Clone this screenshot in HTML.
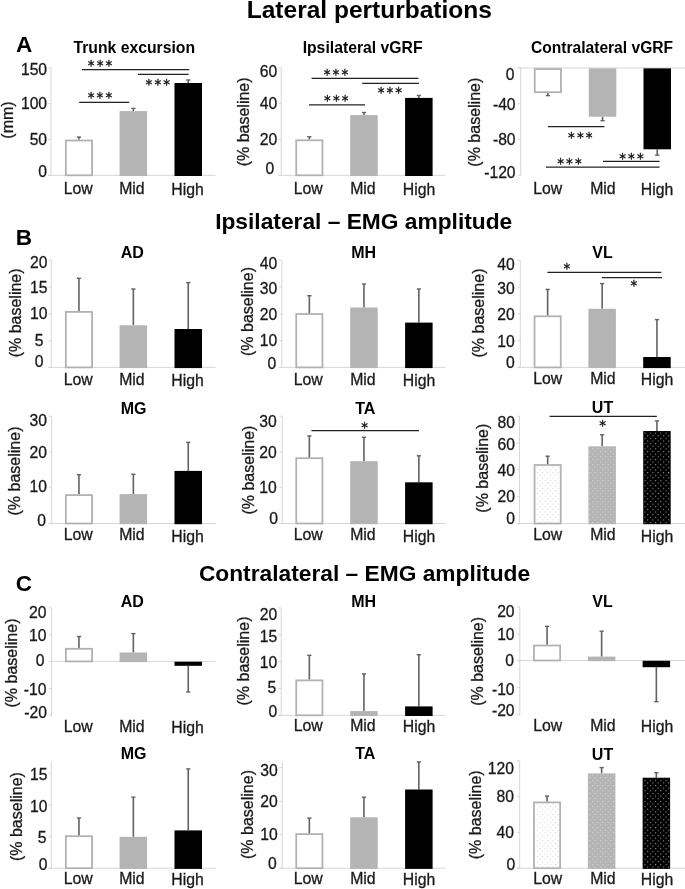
<!DOCTYPE html>
<html lang="en"><head><meta charset="utf-8"><title>Lateral perturbations</title>
<style>html,body{margin:0;padding:0;background:#fff}svg{display:block}svg text{font-family:"Liberation Sans",sans-serif}</style></head><body>
<svg width="685" height="889" viewBox="0 0 685 889">
<defs><pattern id="dotL" x="644.5" y="432.6" width="5.26" height="5.26" patternUnits="userSpaceOnUse"><rect x="0" y="0" width="1.1" height="1.1" fill="#b8b8b8" fill-opacity="0.6"/><rect x="2.63" y="2.63" width="1.1" height="1.1" fill="#b8b8b8" fill-opacity="0.6"/></pattern><pattern id="dotM" x="644.5" y="432.6" width="5.26" height="5.26" patternUnits="userSpaceOnUse"><rect x="0" y="0" width="1.1" height="1.1" fill="#ffffff" fill-opacity="0.45"/><rect x="2.63" y="2.63" width="1.1" height="1.1" fill="#ffffff" fill-opacity="0.45"/></pattern><pattern id="dotH" x="644.5" y="432.6" width="5.26" height="5.26" patternUnits="userSpaceOnUse"><rect x="0" y="0" width="1.1" height="1.1" fill="#ffffff" fill-opacity="0.6"/><rect x="2.63" y="2.63" width="1.1" height="1.1" fill="#ffffff" fill-opacity="0.6"/></pattern></defs>
<rect width="685" height="889" fill="#fff"/>
<text x="369.3" y="18" font-size="24.5" text-anchor="middle" font-weight="bold" fill="#000">Lateral perturbations</text>
<text x="363.7" y="229" font-size="22.75" text-anchor="middle" font-weight="bold" fill="#000">Ipsilateral – EMG amplitude</text>
<text x="364.5" y="581.2" font-size="22.75" text-anchor="middle" font-weight="bold" fill="#000">Contralateral – EMG amplitude</text>
<text x="24" y="52.2" font-size="22.5" text-anchor="middle" font-weight="bold" fill="#000">A</text>
<text x="23.9" y="244.5" font-size="22.5" text-anchor="middle" font-weight="bold" fill="#000">B</text>
<text x="23.8" y="591.2" font-size="22.5" text-anchor="middle" font-weight="bold" fill="#000">C</text>
<line x1="51" y1="67.9" x2="51" y2="175.3" stroke="#d2d2d2" stroke-width="0.9"/>
<line x1="48.3" y1="175.3" x2="215.6" y2="175.3" stroke="#d2d2d2" stroke-width="0.9"/>
<line x1="78.95" y1="139.8" x2="78.95" y2="137.1" stroke="#626262" stroke-width="1.6"/>
<line x1="76.85" y1="137.1" x2="81.05" y2="137.1" stroke="#626262" stroke-width="1.4"/>
<rect x="65.85" y="140.5" width="26.2" height="34.8" fill="#fff" stroke="#b2b2b2" stroke-width="1.8"/>
<line x1="133.35" y1="111.1" x2="133.35" y2="108.4" stroke="#626262" stroke-width="1.6"/>
<line x1="131.25" y1="108.4" x2="135.45" y2="108.4" stroke="#626262" stroke-width="1.4"/>
<rect x="119.6" y="111.1" width="27.5" height="64.9" fill="#b4b4b4"/>
<line x1="188.25" y1="83" x2="188.25" y2="80" stroke="#626262" stroke-width="1.6"/>
<line x1="186.15" y1="80" x2="190.35" y2="80" stroke="#626262" stroke-width="1.4"/>
<rect x="174.5" y="83" width="27.5" height="93" fill="#000000"/>
<line x1="48.3" y1="67.9" x2="51" y2="67.9" stroke="#d2d2d2" stroke-width="0.9"/>
<text x="47.1" y="75.15" font-size="15.7" text-anchor="end" stroke="#1a1a1a" stroke-width="0.3" fill="#1a1a1a">150</text>
<line x1="48.3" y1="103.7" x2="51" y2="103.7" stroke="#d2d2d2" stroke-width="0.9"/>
<text x="47.1" y="109.15" font-size="15.7" text-anchor="end" stroke="#1a1a1a" stroke-width="0.3" fill="#1a1a1a">100</text>
<line x1="48.3" y1="139.5" x2="51" y2="139.5" stroke="#d2d2d2" stroke-width="0.9"/>
<text x="47.1" y="144.85" font-size="15.7" text-anchor="end" stroke="#1a1a1a" stroke-width="0.3" fill="#1a1a1a">50</text>
<line x1="48.3" y1="175.3" x2="51" y2="175.3" stroke="#d2d2d2" stroke-width="0.9"/>
<text x="47.1" y="176.55" font-size="15.7" text-anchor="end" stroke="#1a1a1a" stroke-width="0.3" fill="#1a1a1a">0</text>
<text x="78.25" y="193.9" font-size="15.8" text-anchor="middle" stroke="#1a1a1a" stroke-width="0.3" fill="#1a1a1a">Low</text>
<text x="131.9" y="193.9" font-size="15.8" text-anchor="middle" stroke="#1a1a1a" stroke-width="0.3" fill="#1a1a1a">Mid</text>
<text x="187.5" y="195.1" font-size="15.8" text-anchor="middle" stroke="#1a1a1a" stroke-width="0.3" fill="#1a1a1a">High</text>
<text x="134.3" y="52.6" font-size="15.75" text-anchor="middle" font-weight="bold" fill="#000">Trunk excursion</text>
<text transform="translate(12.5 120) rotate(-90)" font-size="16" text-anchor="middle" fill="#1a1a1a" stroke="#1a1a1a" stroke-width="0.3">(mm)</text>
<line x1="82" y1="69.5" x2="189.3" y2="69.5" stroke="#222" stroke-width="1.25"/>
<text x="101.15" y="70.25" font-size="13.5" text-anchor="middle" fill="#111" stroke="#111" stroke-width="0.3" style="font-family:'DejaVu Sans','Liberation Sans',sans-serif" letter-spacing="2.1">***</text>
<line x1="138" y1="74.4" x2="188.6" y2="74.4" stroke="#222" stroke-width="1.25"/>
<text x="158.85" y="88.65" font-size="13.5" text-anchor="middle" fill="#111" stroke="#111" stroke-width="0.3" style="font-family:'DejaVu Sans','Liberation Sans',sans-serif" letter-spacing="2.1">***</text>
<line x1="79.2" y1="102.3" x2="129.3" y2="102.3" stroke="#222" stroke-width="1.25"/>
<text x="101.05" y="101.95" font-size="13.5" text-anchor="middle" fill="#111" stroke="#111" stroke-width="0.3" style="font-family:'DejaVu Sans','Liberation Sans',sans-serif" letter-spacing="2.1">***</text>
<line x1="281.2" y1="67.9" x2="281.2" y2="175.3" stroke="#d2d2d2" stroke-width="0.9"/>
<line x1="278.5" y1="175.3" x2="445.7" y2="175.3" stroke="#d2d2d2" stroke-width="0.9"/>
<line x1="309.35" y1="139.6" x2="309.35" y2="136.8" stroke="#626262" stroke-width="1.6"/>
<line x1="307.25" y1="136.8" x2="311.45" y2="136.8" stroke="#626262" stroke-width="1.4"/>
<rect x="296.25" y="140.3" width="26.2" height="35" fill="#fff" stroke="#b2b2b2" stroke-width="1.8"/>
<line x1="363.95" y1="115.1" x2="363.95" y2="112.5" stroke="#626262" stroke-width="1.6"/>
<line x1="361.85" y1="112.5" x2="366.05" y2="112.5" stroke="#626262" stroke-width="1.4"/>
<rect x="350.2" y="115.1" width="27.5" height="60.9" fill="#b4b4b4"/>
<line x1="418.85" y1="97.9" x2="418.85" y2="95.5" stroke="#626262" stroke-width="1.6"/>
<line x1="416.75" y1="95.5" x2="420.95" y2="95.5" stroke="#626262" stroke-width="1.4"/>
<rect x="405.1" y="97.9" width="27.5" height="78.1" fill="#000000"/>
<line x1="278.5" y1="67.9" x2="281.2" y2="67.9" stroke="#d2d2d2" stroke-width="0.9"/>
<text x="277.3" y="77.05" font-size="15.7" text-anchor="end" stroke="#1a1a1a" stroke-width="0.3" fill="#1a1a1a">60</text>
<line x1="278.5" y1="103.7" x2="281.2" y2="103.7" stroke="#d2d2d2" stroke-width="0.9"/>
<text x="277.3" y="109.45" font-size="15.7" text-anchor="end" stroke="#1a1a1a" stroke-width="0.3" fill="#1a1a1a">40</text>
<line x1="278.5" y1="139.5" x2="281.2" y2="139.5" stroke="#d2d2d2" stroke-width="0.9"/>
<text x="277.3" y="145.05" font-size="15.7" text-anchor="end" stroke="#1a1a1a" stroke-width="0.3" fill="#1a1a1a">20</text>
<line x1="278.5" y1="175.3" x2="281.2" y2="175.3" stroke="#d2d2d2" stroke-width="0.9"/>
<text x="274.3" y="173.75" font-size="15.7" text-anchor="end" stroke="#1a1a1a" stroke-width="0.3" fill="#1a1a1a">0</text>
<text x="308.25" y="193.9" font-size="15.8" text-anchor="middle" stroke="#1a1a1a" stroke-width="0.3" fill="#1a1a1a">Low</text>
<text x="362.9" y="193.9" font-size="15.8" text-anchor="middle" stroke="#1a1a1a" stroke-width="0.3" fill="#1a1a1a">Mid</text>
<text x="419" y="195.1" font-size="15.8" text-anchor="middle" stroke="#1a1a1a" stroke-width="0.3" fill="#1a1a1a">High</text>
<text x="362.6" y="52.8" font-size="15.75" text-anchor="middle" font-weight="bold" fill="#000">Ipsilateral vGRF</text>
<text transform="translate(249 121.9) rotate(-90)" font-size="16" text-anchor="middle" fill="#1a1a1a" stroke="#1a1a1a" stroke-width="0.3">(% baseline)</text>
<line x1="311.6" y1="78.4" x2="418.4" y2="78.4" stroke="#222" stroke-width="1.25"/>
<text x="337.05" y="78.85" font-size="13.5" text-anchor="middle" fill="#111" stroke="#111" stroke-width="0.3" style="font-family:'DejaVu Sans','Liberation Sans',sans-serif" letter-spacing="2.1">***</text>
<line x1="362.2" y1="83.4" x2="419" y2="83.4" stroke="#222" stroke-width="1.25"/>
<text x="390.95" y="97.35" font-size="13.5" text-anchor="middle" fill="#111" stroke="#111" stroke-width="0.3" style="font-family:'DejaVu Sans','Liberation Sans',sans-serif" letter-spacing="2.1">***</text>
<line x1="309" y1="104.9" x2="365.1" y2="104.9" stroke="#222" stroke-width="1.25"/>
<text x="337.35" y="104.75" font-size="13.5" text-anchor="middle" fill="#111" stroke="#111" stroke-width="0.3" style="font-family:'DejaVu Sans','Liberation Sans',sans-serif" letter-spacing="2.1">***</text>
<line x1="520.7" y1="67.9" x2="520.7" y2="175.3" stroke="#d2d2d2" stroke-width="0.9"/>
<line x1="518" y1="67.9" x2="685" y2="67.9" stroke="#d2d2d2" stroke-width="0.9"/>
<line x1="547.85" y1="92.7" x2="547.85" y2="95.6" stroke="#626262" stroke-width="1.6"/>
<line x1="545.75" y1="95.6" x2="549.95" y2="95.6" stroke="#626262" stroke-width="1.4"/>
<rect x="534.75" y="69.05" width="26.2" height="23.15" fill="#fff" stroke="#b2b2b2" stroke-width="1.8"/>
<line x1="602.55" y1="116.7" x2="602.55" y2="120.7" stroke="#626262" stroke-width="1.6"/>
<line x1="600.45" y1="120.7" x2="604.65" y2="120.7" stroke="#626262" stroke-width="1.4"/>
<rect x="588.8" y="68.35" width="27.5" height="48.35" fill="#b4b4b4"/>
<line x1="657.25" y1="149.3" x2="657.25" y2="155.2" stroke="#626262" stroke-width="1.6"/>
<line x1="655.15" y1="155.2" x2="659.35" y2="155.2" stroke="#626262" stroke-width="1.4"/>
<rect x="643.5" y="68.35" width="27.5" height="80.95" fill="#000000"/>
<line x1="518" y1="67.9" x2="520.7" y2="67.9" stroke="#d2d2d2" stroke-width="0.9"/>
<text x="514.5" y="79.95" font-size="15.7" text-anchor="end" stroke="#1a1a1a" stroke-width="0.3" fill="#1a1a1a">0</text>
<line x1="518" y1="103.7" x2="520.7" y2="103.7" stroke="#d2d2d2" stroke-width="0.9"/>
<text x="515.6" y="109.75" font-size="15.7" text-anchor="end" stroke="#1a1a1a" stroke-width="0.3" fill="#1a1a1a">-40</text>
<line x1="518" y1="139.5" x2="520.7" y2="139.5" stroke="#d2d2d2" stroke-width="0.9"/>
<text x="515.6" y="144.75" font-size="15.7" text-anchor="end" stroke="#1a1a1a" stroke-width="0.3" fill="#1a1a1a">-80</text>
<line x1="518" y1="175.3" x2="520.7" y2="175.3" stroke="#d2d2d2" stroke-width="0.9"/>
<text x="515.6" y="178.35" font-size="15.7" text-anchor="end" stroke="#1a1a1a" stroke-width="0.3" fill="#1a1a1a">-120</text>
<text x="547.75" y="193.9" font-size="15.8" text-anchor="middle" stroke="#1a1a1a" stroke-width="0.3" fill="#1a1a1a">Low</text>
<text x="602.9" y="193.9" font-size="15.8" text-anchor="middle" stroke="#1a1a1a" stroke-width="0.3" fill="#1a1a1a">Mid</text>
<text x="657.1" y="195.1" font-size="15.8" text-anchor="middle" stroke="#1a1a1a" stroke-width="0.3" fill="#1a1a1a">High</text>
<text x="602" y="53" font-size="15.6" text-anchor="middle" font-weight="bold" fill="#000">Contralateral vGRF</text>
<text transform="translate(480.4 122.2) rotate(-90)" font-size="16" text-anchor="middle" fill="#1a1a1a" stroke="#1a1a1a" stroke-width="0.3">(% baseline)</text>
<line x1="547.9" y1="126.5" x2="604.4" y2="126.5" stroke="#222" stroke-width="1.25"/>
<text x="581.35" y="141.75" font-size="13.5" text-anchor="middle" fill="#111" stroke="#111" stroke-width="0.3" style="font-family:'DejaVu Sans','Liberation Sans',sans-serif" letter-spacing="2.1">***</text>
<line x1="603" y1="161.3" x2="659.6" y2="161.3" stroke="#222" stroke-width="1.25"/>
<text x="632.55" y="162.75" font-size="13.5" text-anchor="middle" fill="#111" stroke="#111" stroke-width="0.3" style="font-family:'DejaVu Sans','Liberation Sans',sans-serif" letter-spacing="2.1">***</text>
<line x1="545.9" y1="167.1" x2="659.6" y2="167.1" stroke="#222" stroke-width="1.25"/>
<text x="570.55" y="168.15" font-size="13.5" text-anchor="middle" fill="#111" stroke="#111" stroke-width="0.3" style="font-family:'DejaVu Sans','Liberation Sans',sans-serif" letter-spacing="2.1">***</text>
<line x1="51.3" y1="260.2" x2="51.3" y2="367.4" stroke="#d2d2d2" stroke-width="0.9"/>
<line x1="48.6" y1="367.4" x2="215.5" y2="367.4" stroke="#d2d2d2" stroke-width="0.9"/>
<line x1="78.95" y1="311.2" x2="78.95" y2="278.3" stroke="#626262" stroke-width="1.6"/>
<line x1="76.85" y1="278.3" x2="81.05" y2="278.3" stroke="#626262" stroke-width="1.4"/>
<rect x="65.85" y="311.9" width="26.2" height="55.5" fill="#fff" stroke="#b2b2b2" stroke-width="1.8"/>
<line x1="133.35" y1="325.3" x2="133.35" y2="289" stroke="#626262" stroke-width="1.6"/>
<line x1="131.25" y1="289" x2="135.45" y2="289" stroke="#626262" stroke-width="1.4"/>
<rect x="119.6" y="325.3" width="27.5" height="42.8" fill="#b4b4b4"/>
<line x1="188.25" y1="329" x2="188.25" y2="282.6" stroke="#626262" stroke-width="1.6"/>
<line x1="186.15" y1="282.6" x2="190.35" y2="282.6" stroke="#626262" stroke-width="1.4"/>
<rect x="174.5" y="329" width="27.5" height="39.1" fill="#000000"/>
<line x1="48.6" y1="260.2" x2="51.3" y2="260.2" stroke="#d2d2d2" stroke-width="0.9"/>
<text x="47.4" y="268.05" font-size="15.7" text-anchor="end" stroke="#1a1a1a" stroke-width="0.3" fill="#1a1a1a">20</text>
<line x1="48.6" y1="287" x2="51.3" y2="287" stroke="#d2d2d2" stroke-width="0.9"/>
<text x="47.4" y="292.55" font-size="15.7" text-anchor="end" stroke="#1a1a1a" stroke-width="0.3" fill="#1a1a1a">15</text>
<line x1="48.6" y1="313.8" x2="51.3" y2="313.8" stroke="#d2d2d2" stroke-width="0.9"/>
<text x="47.4" y="319.35" font-size="15.7" text-anchor="end" stroke="#1a1a1a" stroke-width="0.3" fill="#1a1a1a">10</text>
<line x1="48.6" y1="340.6" x2="51.3" y2="340.6" stroke="#d2d2d2" stroke-width="0.9"/>
<text x="43.5" y="346.25" font-size="15.7" text-anchor="end" stroke="#1a1a1a" stroke-width="0.3" fill="#1a1a1a">5</text>
<line x1="48.6" y1="367.4" x2="51.3" y2="367.4" stroke="#d2d2d2" stroke-width="0.9"/>
<text x="43.5" y="366.85" font-size="15.7" text-anchor="end" stroke="#1a1a1a" stroke-width="0.3" fill="#1a1a1a">0</text>
<text x="78.25" y="384.9" font-size="15.8" text-anchor="middle" stroke="#1a1a1a" stroke-width="0.3" fill="#1a1a1a">Low</text>
<text x="131.9" y="384.9" font-size="15.8" text-anchor="middle" stroke="#1a1a1a" stroke-width="0.3" fill="#1a1a1a">Mid</text>
<text x="187.5" y="386.1" font-size="15.8" text-anchor="middle" stroke="#1a1a1a" stroke-width="0.3" fill="#1a1a1a">High</text>
<text x="132.2" y="258" font-size="16" text-anchor="middle" font-weight="bold" fill="#000">AD</text>
<text transform="translate(20.6 312.9) rotate(-90)" font-size="16" text-anchor="middle" fill="#1a1a1a" stroke="#1a1a1a" stroke-width="0.3">(% baseline)</text>
<line x1="281.8" y1="260.2" x2="281.8" y2="367.4" stroke="#d2d2d2" stroke-width="0.9"/>
<line x1="279.1" y1="367.4" x2="445.7" y2="367.4" stroke="#d2d2d2" stroke-width="0.9"/>
<line x1="309.35" y1="313.3" x2="309.35" y2="295.7" stroke="#626262" stroke-width="1.6"/>
<line x1="307.25" y1="295.7" x2="311.45" y2="295.7" stroke="#626262" stroke-width="1.4"/>
<rect x="296.25" y="314" width="26.2" height="53.4" fill="#fff" stroke="#b2b2b2" stroke-width="1.8"/>
<line x1="363.95" y1="307.5" x2="363.95" y2="284" stroke="#626262" stroke-width="1.6"/>
<line x1="361.85" y1="284" x2="366.05" y2="284" stroke="#626262" stroke-width="1.4"/>
<rect x="350.2" y="307.5" width="27.5" height="60.6" fill="#b4b4b4"/>
<line x1="418.85" y1="322.6" x2="418.85" y2="289" stroke="#626262" stroke-width="1.6"/>
<line x1="416.75" y1="289" x2="420.95" y2="289" stroke="#626262" stroke-width="1.4"/>
<rect x="405.1" y="322.6" width="27.5" height="45.5" fill="#000000"/>
<line x1="279.1" y1="260.2" x2="281.8" y2="260.2" stroke="#d2d2d2" stroke-width="0.9"/>
<text x="277.2" y="269.45" font-size="15.7" text-anchor="end" stroke="#1a1a1a" stroke-width="0.3" fill="#1a1a1a">40</text>
<line x1="279.1" y1="287" x2="281.8" y2="287" stroke="#d2d2d2" stroke-width="0.9"/>
<text x="277.2" y="293.75" font-size="15.7" text-anchor="end" stroke="#1a1a1a" stroke-width="0.3" fill="#1a1a1a">30</text>
<line x1="279.1" y1="313.8" x2="281.8" y2="313.8" stroke="#d2d2d2" stroke-width="0.9"/>
<text x="277.2" y="319.95" font-size="15.7" text-anchor="end" stroke="#1a1a1a" stroke-width="0.3" fill="#1a1a1a">20</text>
<line x1="279.1" y1="340.6" x2="281.8" y2="340.6" stroke="#d2d2d2" stroke-width="0.9"/>
<text x="277.2" y="346.45" font-size="15.7" text-anchor="end" stroke="#1a1a1a" stroke-width="0.3" fill="#1a1a1a">10</text>
<line x1="279.1" y1="367.4" x2="281.8" y2="367.4" stroke="#d2d2d2" stroke-width="0.9"/>
<text x="276.2" y="369.25" font-size="15.7" text-anchor="end" stroke="#1a1a1a" stroke-width="0.3" fill="#1a1a1a">0</text>
<text x="308.25" y="385.1" font-size="15.8" text-anchor="middle" stroke="#1a1a1a" stroke-width="0.3" fill="#1a1a1a">Low</text>
<text x="362.9" y="385.1" font-size="15.8" text-anchor="middle" stroke="#1a1a1a" stroke-width="0.3" fill="#1a1a1a">Mid</text>
<text x="419" y="386.3" font-size="15.8" text-anchor="middle" stroke="#1a1a1a" stroke-width="0.3" fill="#1a1a1a">High</text>
<text x="363.6" y="258" font-size="16" text-anchor="middle" font-weight="bold" fill="#000">MH</text>
<text transform="translate(253.2 311.5) rotate(-90)" font-size="16" text-anchor="middle" fill="#1a1a1a" stroke="#1a1a1a" stroke-width="0.3">(% baseline)</text>
<line x1="520.3" y1="260.4" x2="520.3" y2="367.4" stroke="#d2d2d2" stroke-width="0.9"/>
<line x1="517.6" y1="367.4" x2="685" y2="367.4" stroke="#d2d2d2" stroke-width="0.9"/>
<line x1="547.65" y1="315.6" x2="547.65" y2="289.4" stroke="#626262" stroke-width="1.6"/>
<line x1="545.55" y1="289.4" x2="549.75" y2="289.4" stroke="#626262" stroke-width="1.4"/>
<rect x="534.55" y="316.3" width="26.2" height="51.1" fill="#fff" stroke="#b2b2b2" stroke-width="1.8"/>
<line x1="602.15" y1="308.8" x2="602.15" y2="283.6" stroke="#626262" stroke-width="1.6"/>
<line x1="600.05" y1="283.6" x2="604.25" y2="283.6" stroke="#626262" stroke-width="1.4"/>
<rect x="588.4" y="308.8" width="27.5" height="59.3" fill="#b4b4b4"/>
<line x1="656.95" y1="357" x2="656.95" y2="319.6" stroke="#626262" stroke-width="1.6"/>
<line x1="654.85" y1="319.6" x2="659.05" y2="319.6" stroke="#626262" stroke-width="1.4"/>
<rect x="643.2" y="357" width="27.5" height="11.1" fill="#000000"/>
<line x1="517.6" y1="260.2" x2="520.3" y2="260.2" stroke="#d2d2d2" stroke-width="0.9"/>
<text x="514.8" y="270.25" font-size="15.7" text-anchor="end" stroke="#1a1a1a" stroke-width="0.3" fill="#1a1a1a">40</text>
<line x1="517.6" y1="287" x2="520.3" y2="287" stroke="#d2d2d2" stroke-width="0.9"/>
<text x="514.8" y="293.55" font-size="15.7" text-anchor="end" stroke="#1a1a1a" stroke-width="0.3" fill="#1a1a1a">30</text>
<line x1="517.6" y1="313.8" x2="520.3" y2="313.8" stroke="#d2d2d2" stroke-width="0.9"/>
<text x="514.8" y="320.15" font-size="15.7" text-anchor="end" stroke="#1a1a1a" stroke-width="0.3" fill="#1a1a1a">20</text>
<line x1="517.6" y1="340.6" x2="520.3" y2="340.6" stroke="#d2d2d2" stroke-width="0.9"/>
<text x="514.8" y="347.15" font-size="15.7" text-anchor="end" stroke="#1a1a1a" stroke-width="0.3" fill="#1a1a1a">10</text>
<line x1="517.6" y1="367.4" x2="520.3" y2="367.4" stroke="#d2d2d2" stroke-width="0.9"/>
<text x="514.8" y="367.95" font-size="15.7" text-anchor="end" stroke="#1a1a1a" stroke-width="0.3" fill="#1a1a1a">0</text>
<text x="547.75" y="384" font-size="15.8" text-anchor="middle" stroke="#1a1a1a" stroke-width="0.3" fill="#1a1a1a">Low</text>
<text x="602.9" y="384" font-size="15.8" text-anchor="middle" stroke="#1a1a1a" stroke-width="0.3" fill="#1a1a1a">Mid</text>
<text x="657.1" y="385.2" font-size="15.8" text-anchor="middle" stroke="#1a1a1a" stroke-width="0.3" fill="#1a1a1a">High</text>
<text x="602.5" y="257.5" font-size="16" text-anchor="middle" font-weight="bold" fill="#000">VL</text>
<text transform="translate(483.7 313) rotate(-90)" font-size="16" text-anchor="middle" fill="#1a1a1a" stroke="#1a1a1a" stroke-width="0.3">(% baseline)</text>
<line x1="547.4" y1="272.4" x2="661.3" y2="272.4" stroke="#222" stroke-width="1.25"/>
<text x="566.9" y="272.85" font-size="13.5" text-anchor="middle" fill="#111" stroke="#111" stroke-width="0.3" style="font-family:'DejaVu Sans','Liberation Sans',sans-serif">*</text>
<line x1="601.9" y1="277.5" x2="662" y2="277.5" stroke="#222" stroke-width="1.25"/>
<text x="633.8" y="290.35" font-size="13.5" text-anchor="middle" fill="#111" stroke="#111" stroke-width="0.3" style="font-family:'DejaVu Sans','Liberation Sans',sans-serif">*</text>
<line x1="51.7" y1="416.2" x2="51.7" y2="523.5" stroke="#d2d2d2" stroke-width="0.9"/>
<line x1="49" y1="523.5" x2="215.5" y2="523.5" stroke="#d2d2d2" stroke-width="0.9"/>
<line x1="78.95" y1="494.4" x2="78.95" y2="474.7" stroke="#626262" stroke-width="1.6"/>
<line x1="76.85" y1="474.7" x2="81.05" y2="474.7" stroke="#626262" stroke-width="1.4"/>
<rect x="65.85" y="495.1" width="26.2" height="28.4" fill="#fff" stroke="#b2b2b2" stroke-width="1.8"/>
<line x1="133.35" y1="494.1" x2="133.35" y2="474.3" stroke="#626262" stroke-width="1.6"/>
<line x1="131.25" y1="474.3" x2="135.45" y2="474.3" stroke="#626262" stroke-width="1.4"/>
<rect x="119.6" y="494.1" width="27.5" height="30.1" fill="#b4b4b4"/>
<line x1="188.25" y1="470.9" x2="188.25" y2="442.4" stroke="#626262" stroke-width="1.6"/>
<line x1="186.15" y1="442.4" x2="190.35" y2="442.4" stroke="#626262" stroke-width="1.4"/>
<rect x="174.5" y="470.9" width="27.5" height="53.3" fill="#000000"/>
<line x1="49" y1="416.2" x2="51.7" y2="416.2" stroke="#d2d2d2" stroke-width="0.9"/>
<text x="46.9" y="425.85" font-size="15.7" text-anchor="end" stroke="#1a1a1a" stroke-width="0.3" fill="#1a1a1a">30</text>
<line x1="49" y1="451.97" x2="51.7" y2="451.97" stroke="#d2d2d2" stroke-width="0.9"/>
<text x="46.9" y="457.85" font-size="15.7" text-anchor="end" stroke="#1a1a1a" stroke-width="0.3" fill="#1a1a1a">20</text>
<line x1="49" y1="487.73" x2="51.7" y2="487.73" stroke="#d2d2d2" stroke-width="0.9"/>
<text x="46.9" y="492.15" font-size="15.7" text-anchor="end" stroke="#1a1a1a" stroke-width="0.3" fill="#1a1a1a">10</text>
<line x1="49" y1="523.5" x2="51.7" y2="523.5" stroke="#d2d2d2" stroke-width="0.9"/>
<text x="46.1" y="525.55" font-size="15.7" text-anchor="end" stroke="#1a1a1a" stroke-width="0.3" fill="#1a1a1a">0</text>
<text x="78.25" y="540.3" font-size="15.8" text-anchor="middle" stroke="#1a1a1a" stroke-width="0.3" fill="#1a1a1a">Low</text>
<text x="131.9" y="540.3" font-size="15.8" text-anchor="middle" stroke="#1a1a1a" stroke-width="0.3" fill="#1a1a1a">Mid</text>
<text x="187.5" y="541.5" font-size="15.8" text-anchor="middle" stroke="#1a1a1a" stroke-width="0.3" fill="#1a1a1a">High</text>
<text x="133.6" y="413.5" font-size="16" text-anchor="middle" font-weight="bold" fill="#000">MG</text>
<text transform="translate(19.7 471) rotate(-90)" font-size="16" text-anchor="middle" fill="#1a1a1a" stroke="#1a1a1a" stroke-width="0.3">(% baseline)</text>
<line x1="282.2" y1="416.2" x2="282.2" y2="523.5" stroke="#d2d2d2" stroke-width="0.9"/>
<line x1="279.5" y1="523.5" x2="445.7" y2="523.5" stroke="#d2d2d2" stroke-width="0.9"/>
<line x1="309.35" y1="457.5" x2="309.35" y2="435.9" stroke="#626262" stroke-width="1.6"/>
<line x1="307.25" y1="435.9" x2="311.45" y2="435.9" stroke="#626262" stroke-width="1.4"/>
<rect x="296.25" y="458.2" width="26.2" height="65.3" fill="#fff" stroke="#b2b2b2" stroke-width="1.8"/>
<line x1="363.95" y1="461.2" x2="363.95" y2="437.3" stroke="#626262" stroke-width="1.6"/>
<line x1="361.85" y1="437.3" x2="366.05" y2="437.3" stroke="#626262" stroke-width="1.4"/>
<rect x="350.2" y="461.2" width="27.5" height="63" fill="#b4b4b4"/>
<line x1="418.85" y1="482.3" x2="418.85" y2="455.8" stroke="#626262" stroke-width="1.6"/>
<line x1="416.75" y1="455.8" x2="420.95" y2="455.8" stroke="#626262" stroke-width="1.4"/>
<rect x="405.1" y="482.3" width="27.5" height="41.9" fill="#000000"/>
<line x1="279.5" y1="416.2" x2="282.2" y2="416.2" stroke="#d2d2d2" stroke-width="0.9"/>
<text x="276.8" y="426.95" font-size="15.7" text-anchor="end" stroke="#1a1a1a" stroke-width="0.3" fill="#1a1a1a">30</text>
<line x1="279.5" y1="451.97" x2="282.2" y2="451.97" stroke="#d2d2d2" stroke-width="0.9"/>
<text x="276.8" y="457.85" font-size="15.7" text-anchor="end" stroke="#1a1a1a" stroke-width="0.3" fill="#1a1a1a">20</text>
<line x1="279.5" y1="487.73" x2="282.2" y2="487.73" stroke="#d2d2d2" stroke-width="0.9"/>
<text x="276.8" y="493.15" font-size="15.7" text-anchor="end" stroke="#1a1a1a" stroke-width="0.3" fill="#1a1a1a">10</text>
<line x1="279.5" y1="523.5" x2="282.2" y2="523.5" stroke="#d2d2d2" stroke-width="0.9"/>
<text x="277.9" y="523.85" font-size="15.7" text-anchor="end" stroke="#1a1a1a" stroke-width="0.3" fill="#1a1a1a">0</text>
<text x="308.25" y="540.3" font-size="15.8" text-anchor="middle" stroke="#1a1a1a" stroke-width="0.3" fill="#1a1a1a">Low</text>
<text x="362.9" y="540.3" font-size="15.8" text-anchor="middle" stroke="#1a1a1a" stroke-width="0.3" fill="#1a1a1a">Mid</text>
<text x="419" y="541.5" font-size="15.8" text-anchor="middle" stroke="#1a1a1a" stroke-width="0.3" fill="#1a1a1a">High</text>
<text x="365.3" y="413.5" font-size="16" text-anchor="middle" font-weight="bold" fill="#000">TA</text>
<text transform="translate(253.8 470.1) rotate(-90)" font-size="16" text-anchor="middle" fill="#1a1a1a" stroke="#1a1a1a" stroke-width="0.3">(% baseline)</text>
<line x1="311.5" y1="430.6" x2="419" y2="430.6" stroke="#222" stroke-width="1.25"/>
<text x="364.7" y="431.55" font-size="13.5" text-anchor="middle" fill="#111" stroke="#111" stroke-width="0.3" style="font-family:'DejaVu Sans','Liberation Sans',sans-serif">*</text>
<line x1="519.5" y1="416.2" x2="519.5" y2="523.5" stroke="#d2d2d2" stroke-width="0.9"/>
<line x1="516.8" y1="523.5" x2="685" y2="523.5" stroke="#d2d2d2" stroke-width="0.9"/>
<line x1="547.65" y1="464.3" x2="547.65" y2="456.2" stroke="#626262" stroke-width="1.6"/>
<line x1="545.55" y1="456.2" x2="549.75" y2="456.2" stroke="#626262" stroke-width="1.4"/>
<rect x="534.55" y="465" width="26.2" height="58.5" fill="#fff" stroke="#b2b2b2" stroke-width="1.8"/>
<rect x="535.45" y="465.9" width="24.4" height="56.7" fill="url(#dotL)"/>
<line x1="602.15" y1="446.3" x2="602.15" y2="434.8" stroke="#626262" stroke-width="1.6"/>
<line x1="600.05" y1="434.8" x2="604.25" y2="434.8" stroke="#626262" stroke-width="1.4"/>
<rect x="588.4" y="446.3" width="27.5" height="77.9" fill="#b4b4b4"/>
<rect x="588.4" y="446.3" width="27.5" height="77.9" fill="url(#dotM)"/>
<line x1="656.95" y1="431" x2="656.95" y2="420.9" stroke="#626262" stroke-width="1.6"/>
<line x1="654.85" y1="420.9" x2="659.05" y2="420.9" stroke="#626262" stroke-width="1.4"/>
<rect x="643.2" y="431" width="27.5" height="93.2" fill="#000000"/>
<rect x="643.2" y="431" width="27.5" height="93.2" fill="url(#dotH)"/>
<line x1="516.8" y1="416.2" x2="519.5" y2="416.2" stroke="#d2d2d2" stroke-width="0.9"/>
<text x="515" y="427.85" font-size="15.7" text-anchor="end" stroke="#1a1a1a" stroke-width="0.3" fill="#1a1a1a">80</text>
<line x1="516.8" y1="443.02" x2="519.5" y2="443.02" stroke="#d2d2d2" stroke-width="0.9"/>
<text x="515" y="450.15" font-size="15.7" text-anchor="end" stroke="#1a1a1a" stroke-width="0.3" fill="#1a1a1a">60</text>
<line x1="516.8" y1="469.85" x2="519.5" y2="469.85" stroke="#d2d2d2" stroke-width="0.9"/>
<text x="515" y="475.85" font-size="15.7" text-anchor="end" stroke="#1a1a1a" stroke-width="0.3" fill="#1a1a1a">40</text>
<line x1="516.8" y1="496.68" x2="519.5" y2="496.68" stroke="#d2d2d2" stroke-width="0.9"/>
<text x="515" y="502.05" font-size="15.7" text-anchor="end" stroke="#1a1a1a" stroke-width="0.3" fill="#1a1a1a">20</text>
<line x1="516.8" y1="523.5" x2="519.5" y2="523.5" stroke="#d2d2d2" stroke-width="0.9"/>
<text x="515" y="523.55" font-size="15.7" text-anchor="end" stroke="#1a1a1a" stroke-width="0.3" fill="#1a1a1a">0</text>
<text x="547.75" y="540.3" font-size="15.8" text-anchor="middle" stroke="#1a1a1a" stroke-width="0.3" fill="#1a1a1a">Low</text>
<text x="602.9" y="540.3" font-size="15.8" text-anchor="middle" stroke="#1a1a1a" stroke-width="0.3" fill="#1a1a1a">Mid</text>
<text x="657.1" y="541.5" font-size="15.8" text-anchor="middle" stroke="#1a1a1a" stroke-width="0.3" fill="#1a1a1a">High</text>
<text x="602.5" y="412.8" font-size="16" text-anchor="middle" font-weight="bold" fill="#000">UT</text>
<text transform="translate(488.3 468.2) rotate(-90)" font-size="16" text-anchor="middle" fill="#1a1a1a" stroke="#1a1a1a" stroke-width="0.3">(% baseline)</text>
<line x1="549.6" y1="416.4" x2="656.9" y2="416.4" stroke="#222" stroke-width="1.25"/>
<text x="602.5" y="430.35" font-size="13.5" text-anchor="middle" fill="#111" stroke="#111" stroke-width="0.3" style="font-family:'DejaVu Sans','Liberation Sans',sans-serif">*</text>
<line x1="51.6" y1="607.9" x2="51.6" y2="715.4" stroke="#d2d2d2" stroke-width="0.9"/>
<line x1="48.9" y1="661.4" x2="215.5" y2="661.4" stroke="#d2d2d2" stroke-width="0.9"/>
<line x1="78.95" y1="648.1" x2="78.95" y2="636.5" stroke="#626262" stroke-width="1.6"/>
<line x1="76.85" y1="636.5" x2="81.05" y2="636.5" stroke="#626262" stroke-width="1.4"/>
<rect x="65.85" y="648.8" width="26.2" height="12.6" fill="#fff" stroke="#b2b2b2" stroke-width="1.8"/>
<line x1="133.35" y1="652.5" x2="133.35" y2="633.6" stroke="#626262" stroke-width="1.6"/>
<line x1="131.25" y1="633.6" x2="135.45" y2="633.6" stroke="#626262" stroke-width="1.4"/>
<rect x="119.6" y="652.5" width="27.5" height="9.6" fill="#b4b4b4"/>
<line x1="188.25" y1="665.8" x2="188.25" y2="692" stroke="#626262" stroke-width="1.6"/>
<line x1="186.15" y1="692" x2="190.35" y2="692" stroke="#626262" stroke-width="1.4"/>
<rect x="174.5" y="661.7" width="27.5" height="4.1" fill="#000000"/>
<line x1="48.9" y1="607.9" x2="51.6" y2="607.9" stroke="#d2d2d2" stroke-width="0.9"/>
<text x="46.4" y="618.45" font-size="15.7" text-anchor="end" stroke="#1a1a1a" stroke-width="0.3" fill="#1a1a1a">20</text>
<line x1="48.9" y1="634.77" x2="51.6" y2="634.77" stroke="#d2d2d2" stroke-width="0.9"/>
<text x="46.4" y="641.05" font-size="15.7" text-anchor="end" stroke="#1a1a1a" stroke-width="0.3" fill="#1a1a1a">10</text>
<line x1="48.9" y1="661.65" x2="51.6" y2="661.65" stroke="#d2d2d2" stroke-width="0.9"/>
<text x="44.4" y="666.45" font-size="15.7" text-anchor="end" stroke="#1a1a1a" stroke-width="0.3" fill="#1a1a1a">0</text>
<line x1="48.9" y1="688.52" x2="51.6" y2="688.52" stroke="#d2d2d2" stroke-width="0.9"/>
<text x="46.4" y="695.15" font-size="15.7" text-anchor="end" stroke="#1a1a1a" stroke-width="0.3" fill="#1a1a1a">-10</text>
<line x1="48.9" y1="715.4" x2="51.6" y2="715.4" stroke="#d2d2d2" stroke-width="0.9"/>
<text x="47" y="717.85" font-size="15.7" text-anchor="end" stroke="#1a1a1a" stroke-width="0.3" fill="#1a1a1a">-20</text>
<text x="78.25" y="731.5" font-size="15.8" text-anchor="middle" stroke="#1a1a1a" stroke-width="0.3" fill="#1a1a1a">Low</text>
<text x="131.9" y="731.5" font-size="15.8" text-anchor="middle" stroke="#1a1a1a" stroke-width="0.3" fill="#1a1a1a">Mid</text>
<text x="187.5" y="732.7" font-size="15.8" text-anchor="middle" stroke="#1a1a1a" stroke-width="0.3" fill="#1a1a1a">High</text>
<text x="132.2" y="607" font-size="16" text-anchor="middle" font-weight="bold" fill="#000">AD</text>
<text transform="translate(16.5 663) rotate(-90)" font-size="16" text-anchor="middle" fill="#1a1a1a" stroke="#1a1a1a" stroke-width="0.3">(% baseline)</text>
<line x1="281.2" y1="607.9" x2="281.2" y2="715.3" stroke="#d2d2d2" stroke-width="0.9"/>
<line x1="278.5" y1="715.3" x2="445.7" y2="715.3" stroke="#d2d2d2" stroke-width="0.9"/>
<line x1="309.35" y1="679.7" x2="309.35" y2="655.3" stroke="#626262" stroke-width="1.6"/>
<line x1="307.25" y1="655.3" x2="311.45" y2="655.3" stroke="#626262" stroke-width="1.4"/>
<rect x="296.25" y="680.4" width="26.2" height="34.9" fill="#fff" stroke="#b2b2b2" stroke-width="1.8"/>
<line x1="363.95" y1="711.1" x2="363.95" y2="673.9" stroke="#626262" stroke-width="1.6"/>
<line x1="361.85" y1="673.9" x2="366.05" y2="673.9" stroke="#626262" stroke-width="1.4"/>
<rect x="350.2" y="711.1" width="27.5" height="4.9" fill="#b4b4b4"/>
<line x1="418.85" y1="706.4" x2="418.85" y2="654.7" stroke="#626262" stroke-width="1.6"/>
<line x1="416.75" y1="654.7" x2="420.95" y2="654.7" stroke="#626262" stroke-width="1.4"/>
<rect x="405.1" y="706.4" width="27.5" height="9.6" fill="#000000"/>
<line x1="278.5" y1="607.9" x2="281.2" y2="607.9" stroke="#d2d2d2" stroke-width="0.9"/>
<text x="277.3" y="619.95" font-size="15.7" text-anchor="end" stroke="#1a1a1a" stroke-width="0.3" fill="#1a1a1a">20</text>
<line x1="278.5" y1="634.77" x2="281.2" y2="634.77" stroke="#d2d2d2" stroke-width="0.9"/>
<text x="277.3" y="641.75" font-size="15.7" text-anchor="end" stroke="#1a1a1a" stroke-width="0.3" fill="#1a1a1a">15</text>
<line x1="278.5" y1="661.65" x2="281.2" y2="661.65" stroke="#d2d2d2" stroke-width="0.9"/>
<text x="277.3" y="667.95" font-size="15.7" text-anchor="end" stroke="#1a1a1a" stroke-width="0.3" fill="#1a1a1a">10</text>
<line x1="278.5" y1="688.52" x2="281.2" y2="688.52" stroke="#d2d2d2" stroke-width="0.9"/>
<text x="276.3" y="693.35" font-size="15.7" text-anchor="end" stroke="#1a1a1a" stroke-width="0.3" fill="#1a1a1a">5</text>
<line x1="278.5" y1="715.4" x2="281.2" y2="715.4" stroke="#d2d2d2" stroke-width="0.9"/>
<text x="277.3" y="717.05" font-size="15.7" text-anchor="end" stroke="#1a1a1a" stroke-width="0.3" fill="#1a1a1a">0</text>
<text x="308.25" y="731.2" font-size="15.8" text-anchor="middle" stroke="#1a1a1a" stroke-width="0.3" fill="#1a1a1a">Low</text>
<text x="362.9" y="731.2" font-size="15.8" text-anchor="middle" stroke="#1a1a1a" stroke-width="0.3" fill="#1a1a1a">Mid</text>
<text x="419" y="732.4" font-size="15.8" text-anchor="middle" stroke="#1a1a1a" stroke-width="0.3" fill="#1a1a1a">High</text>
<text x="363.6" y="607" font-size="16" text-anchor="middle" font-weight="bold" fill="#000">MH</text>
<text transform="translate(248.6 661) rotate(-90)" font-size="16" text-anchor="middle" fill="#1a1a1a" stroke="#1a1a1a" stroke-width="0.3">(% baseline)</text>
<line x1="519.8" y1="607" x2="519.8" y2="714.4" stroke="#d2d2d2" stroke-width="0.9"/>
<line x1="517.1" y1="660.5" x2="685" y2="660.5" stroke="#d2d2d2" stroke-width="0.9"/>
<line x1="547.05" y1="644.8" x2="547.05" y2="626.3" stroke="#626262" stroke-width="1.6"/>
<line x1="544.95" y1="626.3" x2="549.15" y2="626.3" stroke="#626262" stroke-width="1.4"/>
<rect x="533.95" y="645.5" width="26.2" height="15" fill="#fff" stroke="#b2b2b2" stroke-width="1.8"/>
<line x1="601.65" y1="656.6" x2="601.65" y2="631.2" stroke="#626262" stroke-width="1.6"/>
<line x1="599.55" y1="631.2" x2="603.75" y2="631.2" stroke="#626262" stroke-width="1.4"/>
<rect x="587.9" y="656.6" width="27.5" height="4.6" fill="#b4b4b4"/>
<line x1="656.35" y1="667.2" x2="656.35" y2="701.7" stroke="#626262" stroke-width="1.6"/>
<line x1="654.25" y1="701.7" x2="658.45" y2="701.7" stroke="#626262" stroke-width="1.4"/>
<rect x="642.6" y="660.8" width="27.5" height="6.4" fill="#000000"/>
<line x1="517.1" y1="607" x2="519.8" y2="607" stroke="#d2d2d2" stroke-width="0.9"/>
<text x="514.6" y="616.55" font-size="15.7" text-anchor="end" stroke="#1a1a1a" stroke-width="0.3" fill="#1a1a1a">20</text>
<line x1="517.1" y1="633.85" x2="519.8" y2="633.85" stroke="#d2d2d2" stroke-width="0.9"/>
<text x="514.6" y="640.15" font-size="15.7" text-anchor="end" stroke="#1a1a1a" stroke-width="0.3" fill="#1a1a1a">10</text>
<line x1="517.1" y1="660.7" x2="519.8" y2="660.7" stroke="#d2d2d2" stroke-width="0.9"/>
<text x="513.9" y="666.25" font-size="15.7" text-anchor="end" stroke="#1a1a1a" stroke-width="0.3" fill="#1a1a1a">0</text>
<line x1="517.1" y1="687.55" x2="519.8" y2="687.55" stroke="#d2d2d2" stroke-width="0.9"/>
<text x="514.6" y="694.65" font-size="15.7" text-anchor="end" stroke="#1a1a1a" stroke-width="0.3" fill="#1a1a1a">-10</text>
<line x1="517.1" y1="714.4" x2="519.8" y2="714.4" stroke="#d2d2d2" stroke-width="0.9"/>
<text x="514.6" y="716.05" font-size="15.7" text-anchor="end" stroke="#1a1a1a" stroke-width="0.3" fill="#1a1a1a">-20</text>
<text x="547.75" y="731.1" font-size="15.8" text-anchor="middle" stroke="#1a1a1a" stroke-width="0.3" fill="#1a1a1a">Low</text>
<text x="602.9" y="731.1" font-size="15.8" text-anchor="middle" stroke="#1a1a1a" stroke-width="0.3" fill="#1a1a1a">Mid</text>
<text x="657.1" y="732.3" font-size="15.8" text-anchor="middle" stroke="#1a1a1a" stroke-width="0.3" fill="#1a1a1a">High</text>
<text x="602.5" y="606.8" font-size="16" text-anchor="middle" font-weight="bold" fill="#000">VL</text>
<text transform="translate(483 661.4) rotate(-90)" font-size="16" text-anchor="middle" fill="#1a1a1a" stroke="#1a1a1a" stroke-width="0.3">(% baseline)</text>
<line x1="51.3" y1="761.4" x2="51.3" y2="868.2" stroke="#d2d2d2" stroke-width="0.9"/>
<line x1="48.6" y1="868.2" x2="215.5" y2="868.2" stroke="#d2d2d2" stroke-width="0.9"/>
<line x1="78.95" y1="835.5" x2="78.95" y2="818" stroke="#626262" stroke-width="1.6"/>
<line x1="76.85" y1="818" x2="81.05" y2="818" stroke="#626262" stroke-width="1.4"/>
<rect x="65.85" y="836.2" width="26.2" height="32" fill="#fff" stroke="#b2b2b2" stroke-width="1.8"/>
<line x1="133.35" y1="836.8" x2="133.35" y2="797.2" stroke="#626262" stroke-width="1.6"/>
<line x1="131.25" y1="797.2" x2="135.45" y2="797.2" stroke="#626262" stroke-width="1.4"/>
<rect x="119.6" y="836.8" width="27.5" height="32.1" fill="#b4b4b4"/>
<line x1="188.25" y1="830.4" x2="188.25" y2="768.9" stroke="#626262" stroke-width="1.6"/>
<line x1="186.15" y1="768.9" x2="190.35" y2="768.9" stroke="#626262" stroke-width="1.4"/>
<rect x="174.5" y="830.4" width="27.5" height="38.5" fill="#000000"/>
<line x1="48.6" y1="773.3" x2="51.3" y2="773.3" stroke="#d2d2d2" stroke-width="0.9"/>
<text x="47.4" y="779.55" font-size="15.7" text-anchor="end" stroke="#1a1a1a" stroke-width="0.3" fill="#1a1a1a">15</text>
<line x1="48.6" y1="804.8" x2="51.3" y2="804.8" stroke="#d2d2d2" stroke-width="0.9"/>
<text x="47.4" y="811.65" font-size="15.7" text-anchor="end" stroke="#1a1a1a" stroke-width="0.3" fill="#1a1a1a">10</text>
<line x1="48.6" y1="836.4" x2="51.3" y2="836.4" stroke="#d2d2d2" stroke-width="0.9"/>
<text x="46.5" y="842.55" font-size="15.7" text-anchor="end" stroke="#1a1a1a" stroke-width="0.3" fill="#1a1a1a">5</text>
<line x1="48.6" y1="868.2" x2="51.3" y2="868.2" stroke="#d2d2d2" stroke-width="0.9"/>
<text x="47.4" y="869.75" font-size="15.7" text-anchor="end" stroke="#1a1a1a" stroke-width="0.3" fill="#1a1a1a">0</text>
<text x="78.25" y="884" font-size="15.8" text-anchor="middle" stroke="#1a1a1a" stroke-width="0.3" fill="#1a1a1a">Low</text>
<text x="131.9" y="884" font-size="15.8" text-anchor="middle" stroke="#1a1a1a" stroke-width="0.3" fill="#1a1a1a">Mid</text>
<text x="187.5" y="885.2" font-size="15.8" text-anchor="middle" stroke="#1a1a1a" stroke-width="0.3" fill="#1a1a1a">High</text>
<text x="133.6" y="759.3" font-size="16" text-anchor="middle" font-weight="bold" fill="#000">MG</text>
<text transform="translate(22 816.6) rotate(-90)" font-size="16" text-anchor="middle" fill="#1a1a1a" stroke="#1a1a1a" stroke-width="0.3">(% baseline)</text>
<line x1="282.2" y1="761.4" x2="282.2" y2="868.2" stroke="#d2d2d2" stroke-width="0.9"/>
<line x1="279.5" y1="868.2" x2="445.7" y2="868.2" stroke="#d2d2d2" stroke-width="0.9"/>
<line x1="309.35" y1="833.4" x2="309.35" y2="818.1" stroke="#626262" stroke-width="1.6"/>
<line x1="307.25" y1="818.1" x2="311.45" y2="818.1" stroke="#626262" stroke-width="1.4"/>
<rect x="296.25" y="834.1" width="26.2" height="34.1" fill="#fff" stroke="#b2b2b2" stroke-width="1.8"/>
<line x1="363.95" y1="817.3" x2="363.95" y2="797.2" stroke="#626262" stroke-width="1.6"/>
<line x1="361.85" y1="797.2" x2="366.05" y2="797.2" stroke="#626262" stroke-width="1.4"/>
<rect x="350.2" y="817.3" width="27.5" height="51.6" fill="#b4b4b4"/>
<line x1="418.85" y1="789.5" x2="418.85" y2="761.9" stroke="#626262" stroke-width="1.6"/>
<line x1="416.75" y1="761.9" x2="420.95" y2="761.9" stroke="#626262" stroke-width="1.4"/>
<rect x="405.1" y="789.5" width="27.5" height="79.4" fill="#000000"/>
<line x1="279.5" y1="767.7" x2="282.2" y2="767.7" stroke="#d2d2d2" stroke-width="0.9"/>
<text x="277.8" y="775.95" font-size="15.7" text-anchor="end" stroke="#1a1a1a" stroke-width="0.3" fill="#1a1a1a">30</text>
<line x1="279.5" y1="801.3" x2="282.2" y2="801.3" stroke="#d2d2d2" stroke-width="0.9"/>
<text x="277.8" y="807.35" font-size="15.7" text-anchor="end" stroke="#1a1a1a" stroke-width="0.3" fill="#1a1a1a">20</text>
<line x1="279.5" y1="834.6" x2="282.2" y2="834.6" stroke="#d2d2d2" stroke-width="0.9"/>
<text x="277.8" y="839.55" font-size="15.7" text-anchor="end" stroke="#1a1a1a" stroke-width="0.3" fill="#1a1a1a">10</text>
<line x1="279.5" y1="868.2" x2="282.2" y2="868.2" stroke="#d2d2d2" stroke-width="0.9"/>
<text x="276.8" y="869.35" font-size="15.7" text-anchor="end" stroke="#1a1a1a" stroke-width="0.3" fill="#1a1a1a">0</text>
<text x="308.25" y="883.7" font-size="15.8" text-anchor="middle" stroke="#1a1a1a" stroke-width="0.3" fill="#1a1a1a">Low</text>
<text x="362.9" y="883.7" font-size="15.8" text-anchor="middle" stroke="#1a1a1a" stroke-width="0.3" fill="#1a1a1a">Mid</text>
<text x="419" y="884.9" font-size="15.8" text-anchor="middle" stroke="#1a1a1a" stroke-width="0.3" fill="#1a1a1a">High</text>
<text x="365.3" y="759.3" font-size="16" text-anchor="middle" font-weight="bold" fill="#000">TA</text>
<text transform="translate(252.9 814.5) rotate(-90)" font-size="16" text-anchor="middle" fill="#1a1a1a" stroke="#1a1a1a" stroke-width="0.3">(% baseline)</text>
<line x1="519.7" y1="760.7" x2="519.7" y2="868.2" stroke="#d2d2d2" stroke-width="0.9"/>
<line x1="517" y1="868.2" x2="685" y2="868.2" stroke="#d2d2d2" stroke-width="0.9"/>
<line x1="547.05" y1="801.7" x2="547.05" y2="796.1" stroke="#626262" stroke-width="1.6"/>
<line x1="544.95" y1="796.1" x2="549.15" y2="796.1" stroke="#626262" stroke-width="1.4"/>
<rect x="533.95" y="802.4" width="26.2" height="65.8" fill="#fff" stroke="#b2b2b2" stroke-width="1.8"/>
<rect x="534.85" y="803.3" width="24.4" height="64" fill="url(#dotL)"/>
<line x1="601.65" y1="773.4" x2="601.65" y2="767.6" stroke="#626262" stroke-width="1.6"/>
<line x1="599.55" y1="767.6" x2="603.75" y2="767.6" stroke="#626262" stroke-width="1.4"/>
<rect x="587.9" y="773.4" width="27.5" height="95.5" fill="#b4b4b4"/>
<rect x="587.9" y="773.4" width="27.5" height="95.5" fill="url(#dotM)"/>
<line x1="656.35" y1="777.7" x2="656.35" y2="772.7" stroke="#626262" stroke-width="1.6"/>
<line x1="654.25" y1="772.7" x2="658.45" y2="772.7" stroke="#626262" stroke-width="1.4"/>
<rect x="642.6" y="777.7" width="27.5" height="91.2" fill="#000000"/>
<rect x="642.6" y="777.7" width="27.5" height="91.2" fill="url(#dotH)"/>
<line x1="517" y1="760.7" x2="519.7" y2="760.7" stroke="#d2d2d2" stroke-width="0.9"/>
<text x="514" y="773.95" font-size="15.7" text-anchor="end" stroke="#1a1a1a" stroke-width="0.3" fill="#1a1a1a">120</text>
<line x1="517" y1="796.4" x2="519.7" y2="796.4" stroke="#d2d2d2" stroke-width="0.9"/>
<text x="514" y="802.25" font-size="15.7" text-anchor="end" stroke="#1a1a1a" stroke-width="0.3" fill="#1a1a1a">80</text>
<line x1="517" y1="832.3" x2="519.7" y2="832.3" stroke="#d2d2d2" stroke-width="0.9"/>
<text x="514" y="838.45" font-size="15.7" text-anchor="end" stroke="#1a1a1a" stroke-width="0.3" fill="#1a1a1a">40</text>
<line x1="517" y1="868.2" x2="519.7" y2="868.2" stroke="#d2d2d2" stroke-width="0.9"/>
<text x="515.3" y="870.15" font-size="15.7" text-anchor="end" stroke="#1a1a1a" stroke-width="0.3" fill="#1a1a1a">0</text>
<text x="547.75" y="883.7" font-size="15.8" text-anchor="middle" stroke="#1a1a1a" stroke-width="0.3" fill="#1a1a1a">Low</text>
<text x="602.9" y="883.7" font-size="15.8" text-anchor="middle" stroke="#1a1a1a" stroke-width="0.3" fill="#1a1a1a">Mid</text>
<text x="657.1" y="884.9" font-size="15.8" text-anchor="middle" stroke="#1a1a1a" stroke-width="0.3" fill="#1a1a1a">High</text>
<text x="602.5" y="760" font-size="16" text-anchor="middle" font-weight="bold" fill="#000">UT</text>
<text transform="translate(481 814.8) rotate(-90)" font-size="16" text-anchor="middle" fill="#1a1a1a" stroke="#1a1a1a" stroke-width="0.3">(% baseline)</text>
</svg></body></html>
